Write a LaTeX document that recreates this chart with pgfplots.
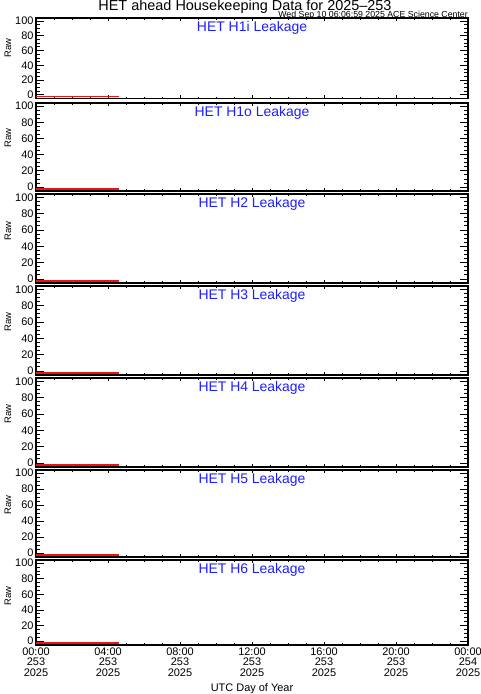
\documentclass[border=0pt]{standalone}
\usepackage{fontspec}
\setmainfont{Liberation Sans}
\usepackage{pgfplots}
\pgfplotsset{compat=1.18}
\definecolor{idlblue}{RGB}{30,30,255}
\definecolor{idlred}{RGB}{235,20,20}
\pgfplotsset{
  hkpanel/.style={
    scale only axis, width=432bp, anchor=south west,
    xmin=0, xmax=24, ymin=-5, ymax=104,
    xtick={0,4,...,24}, minor x tick num=3,
    ytick={0,20,...,100}, minor y tick num=3,
    tick align=inside,
    axis line style={line width=1.3bp},
    every tick/.style={black, line width=0.7bp},
    xtick style={/pgfplots/major tick length=3bp,/pgfplots/minor tick length=1.8bp},
    ytick style={/pgfplots/major tick length=8bp,/pgfplots/minor tick length=4bp},
    /pgf/number format/assume math mode=true,
    ticklabel style={font=\fontsize{11}{11}\selectfont},
    yticklabel style={xshift=1bp, inner ysep=0pt},
    xticklabels={},
    clip=false,
  },
  lastpanel/.style={
    xticklabels={{00:00\\253\\2025},{04:00\\253\\2025},{08:00\\253\\2025},{12:00\\253\\2025},{16:00\\253\\2025},{20:00\\253\\2025},{00:00\\254\\2025}},
    xticklabel style={align=center, font=\fontsize{11}{10.5}\selectfont, yshift=1bp},
  }
}
\newcommand\paneltitle[1]{\node[anchor=north, text=idlblue, font=\fontsize{14}{14}\selectfont] at (rel axis cs:0.5,1) {#1};}
\begin{document}
\begin{tikzpicture}
\useasboundingbox (0,0) rectangle (481bp,694bp);
% Panel 1
\begin{axis}[hkpanel, at={(36bp,595.5bp)}, height=80.5bp]
\addplot[idlred, line width=1.8bp] coordinates {(0,-2.2) (1,-2.2) (2,-2.2) (3,-2.2) (4,-2.2) (4.6,-2.2)};
\paneltitle{HET H1i Leakage}
\end{axis}
% Panel 2
\begin{axis}[hkpanel, at={(36bp,503bp)}, height=88bp]
\addplot[idlred, line width=1.8bp] coordinates {(0,-2.2) (1,-2.2) (2,-2.2) (3,-2.2) (4,-2.2) (4.6,-2.2)};
\paneltitle{HET H1o Leakage}
\end{axis}
% Panel 3
\begin{axis}[hkpanel, at={(36bp,411bp)}, height=89bp]
\addplot[idlred, line width=1.8bp] coordinates {(0,-2.2) (1,-2.2) (2,-2.2) (3,-2.2) (4,-2.2) (4.6,-2.2)};
\paneltitle{HET H2 Leakage}
\end{axis}
% Panel 4
\begin{axis}[hkpanel, at={(36bp,319bp)}, height=89bp]
\addplot[idlred, line width=1.8bp] coordinates {(0,-2.2) (1,-2.2) (2,-2.2) (3,-2.2) (4,-2.2) (4.6,-2.2)};
\paneltitle{HET H3 Leakage}
\end{axis}
% Panel 5
\begin{axis}[hkpanel, at={(36bp,227bp)}, height=89bp]
\addplot[idlred, line width=1.8bp] coordinates {(0,-2.2) (1,-2.2) (2,-2.2) (3,-2.2) (4,-2.2) (4.6,-2.2)};
\paneltitle{HET H4 Leakage}
\end{axis}
% Panel 6
\begin{axis}[hkpanel, at={(36bp,137bp)}, height=87bp]
\addplot[idlred, line width=1.8bp] coordinates {(0,-2.2) (1,-2.2) (2,-2.2) (3,-2.2) (4,-2.2) (4.6,-2.2)};
\paneltitle{HET H5 Leakage}
\end{axis}
% Panel 7
\begin{axis}[hkpanel, lastpanel, at={(36bp,49bp)}, height=85bp]
\addplot[idlred, line width=1.8bp] coordinates {(0,-2.2) (1,-2.2) (2,-2.2) (3,-2.2) (4,-2.2) (4.6,-2.2)};
\paneltitle{HET H6 Leakage}
\end{axis}
% Y labels
\foreach \yc in {646,556,463,372,280,189,98} {
  \node[rotate=90, font=\fontsize{9.5}{10}\selectfont] at (8bp,\yc bp) {Raw};
}
% Titles
\node[anchor=base, font=\fontsize{14.5}{15}\selectfont, inner sep=0pt, text depth=0pt] at (245bp,683.5bp) {HET ahead Housekeeping Data for 2025{\textendash}253};
\node[anchor=base east, font=\fontsize{8.8}{9}\selectfont, inner sep=0pt] at (468bp,676.5bp) {Wed Sep 10 06:06:59 2025 ACE Science Center};
\node[font=\fontsize{11}{12}\selectfont] at (252bp,5bp) {UTC Day of Year};
\end{tikzpicture}
\end{document}
